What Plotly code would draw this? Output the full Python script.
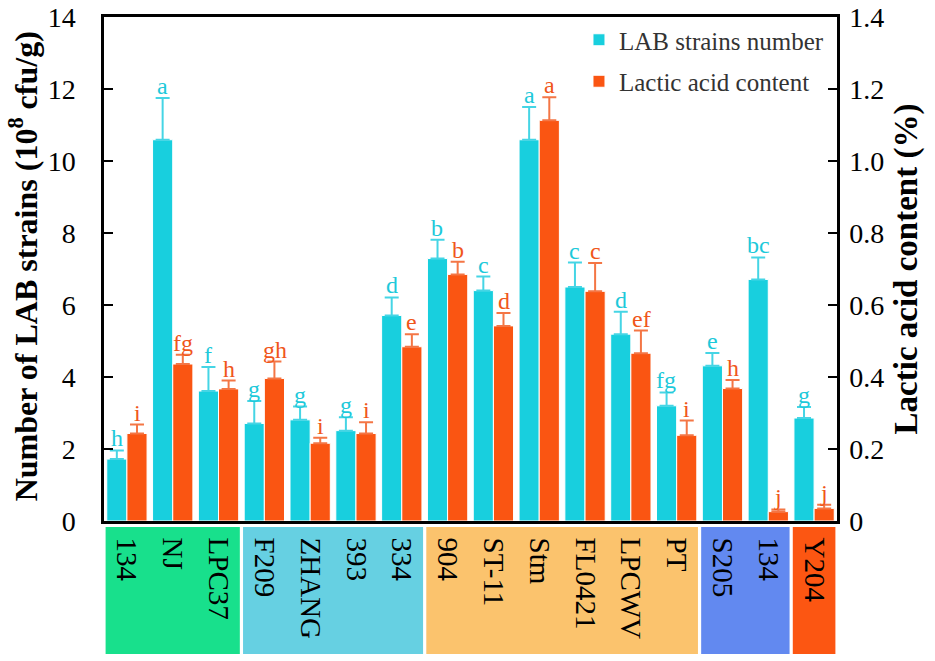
import plotly.graph_objects as go

strains = ["134", "NJ", "LPC37", "F209", "ZHANG", "393", "334", "904", "ST-11",
           "Stm", "FL0421", "LPCWV", "PT", "S205", "134", "Y204"]
lab = [1.72, 10.59, 3.61, 2.71, 2.81, 2.51, 5.71, 7.29, 6.40, 10.59, 6.50, 5.19, 3.20, 4.31, 6.71, 2.86]
lab_err = [0.24, 1.16, 0.67, 0.62, 0.37, 0.37, 0.50, 0.52, 0.39, 0.91, 0.68, 0.62, 0.37, 0.36, 0.61, 0.31]
lactic = [0.243, 0.436, 0.367, 0.396, 0.216, 0.243, 0.484, 0.685, 0.542, 1.113, 0.638, 0.466, 0.238, 0.368, 0.026, 0.035]
lactic_err = [0.025, 0.026, 0.023, 0.047, 0.015, 0.031, 0.035, 0.035, 0.036, 0.064, 0.079, 0.063, 0.041, 0.024, 0.006, 0.010]
lab_sig = ["h", "a", "f", "g", "g", "g", "d", "b", "c", "a", "c", "d", "fg", "e", "bc", "g"]
lac_sig = ["i", "fg", "h", "gh", "i", "i", "e", "b", "d", "a", "c", "ef", "i", "h", "j", "j"]
group_sizes = [3, 4, 6, 2, 1]
group_colors = ["#18E08C", "#66D0E2", "#FBC36D", "#6289F0", "#FC5612"]
y1_ticks = [0, 2, 4, 6, 8, 10, 12, 14]
y2_ticks = [0, 0.2, 0.4, 0.6, 0.8, 1.0, 1.2, 1.4]
y2_ticklabels = ["0", "0.2", "0.4", "0.6", "0.8", "1.0", "1.2", "1.4"]

CYAN = "#18CFDE"
ORANGE = "#FA5512"
SERIF = "Liberation Serif"

x = list(range(len(strains)))

fig = go.Figure()
fig.add_trace(go.Bar(
    x=x, y=lab, name="LAB strains number", offsetgroup="1", legendgroup="a",
    marker=dict(color=CYAN, line=dict(color="white", width=1)),
    error_y=dict(type="data", symmetric=False, array=lab_err, arrayminus=[0] * len(lab),
                 color="#45D5E5", thickness=2, width=7),
))
fig.add_trace(go.Bar(
    x=x, y=lactic, name="Lactic acid content", offsetgroup="2", legendgroup="b", yaxis="y2",
    marker=dict(color=ORANGE, line=dict(color="white", width=1)),
    error_y=dict(type="data", symmetric=False, array=lactic_err, arrayminus=[0] * len(lactic),
                 color="#F47645", thickness=2, width=7),
))

ann = []
for i in x:
    ann.append(dict(x=i, y=lab[i] + lab_err[i], xref="x", yref="y", text=lab_sig[i],
                    showarrow=False, xshift=-10.2, yshift=-3, yanchor="bottom",
                    font=dict(family=SERIF, size=24, color="#1DC9DA")))
    ann.append(dict(x=i, y=lactic[i] + lactic_err[i], xref="x", yref="y2", text=lac_sig[i],
                    showarrow=False, xshift=10.2, yshift=-3, yanchor="bottom",
                    font=dict(family=SERIF, size=24, color="#F0561A")))
# left axis title
ann.append(dict(x=-0.11, y=0.506, xref="paper", yref="paper", showarrow=False,
                text="<b>Number of LAB strains (10<sup>8</sup> cfu/g)</b>", textangle=-90,
                xanchor="center", yanchor="middle",
                font=dict(family=SERIF, size=32, color="black")))

shapes = []
start = 0
for size, col in zip(group_sizes, group_colors):
    shapes.append(dict(type="rect", xref="x", yref="paper",
                       x0=start - 0.5 + 0.035, x1=start + size - 0.5 - 0.035,
                       y0=-0.012, y1=-0.264, fillcolor=col, line=dict(width=0), layer="below"))
    start += size

fig.update_layout(
    width=935, height=661,
    margin=dict(l=104, r=98, t=17, b=140, autoexpand=False),
    plot_bgcolor="white", paper_bgcolor="white",
    barmode="group", bargap=0.12, bargroupgap=0,
    showlegend=True,
    legend=dict(x=0.648, y=1.0, xanchor="left", yanchor="top", bgcolor="rgba(0,0,0,0)",
                font=dict(family=SERIF, size=25, color="#333333"), tracegroupgap=6,
                traceorder="grouped"),
    xaxis=dict(range=[-0.5, len(strains) - 0.5], tickvals=x, ticktext=strains, tickangle=90,
               showline=True, linecolor="black", linewidth=2.5, mirror=True, ticks="",
               showgrid=False, zeroline=False, ticklabelstandoff=8, automargin=False,
               tickfont=dict(family=SERIF, size=29, color="black")),
    yaxis=dict(range=[0, 14], tickvals=y1_ticks,
               showline=True, linecolor="black", linewidth=2.5, ticks="inside", ticklen=9,
               tickwidth=2, tickcolor="black", showgrid=False, zeroline=False, automargin=False,
               ticklabelstandoff=20,
               tickfont=dict(family=SERIF, size=28, color="black")),
    yaxis2=dict(range=[0, 1.4], overlaying="y", side="right",
                tickvals=y2_ticks, ticktext=y2_ticklabels,
                showline=True, linecolor="black", linewidth=2.5, ticks="inside", ticklen=9,
                tickwidth=2, tickcolor="black", showgrid=False, zeroline=False, automargin=False,
                ticklabelstandoff=4,
                tickfont=dict(family=SERIF, size=28, color="black"),
                title=dict(text="<b>Lactic acid content (%)</b>", standoff=11,
                           font=dict(family=SERIF, size=33, color="black"))),
    annotations=ann,
    shapes=shapes,
)

fig.write_html("out.html", config={"displayModeBar": False},
               post_script="document.body.style.margin='0';")
